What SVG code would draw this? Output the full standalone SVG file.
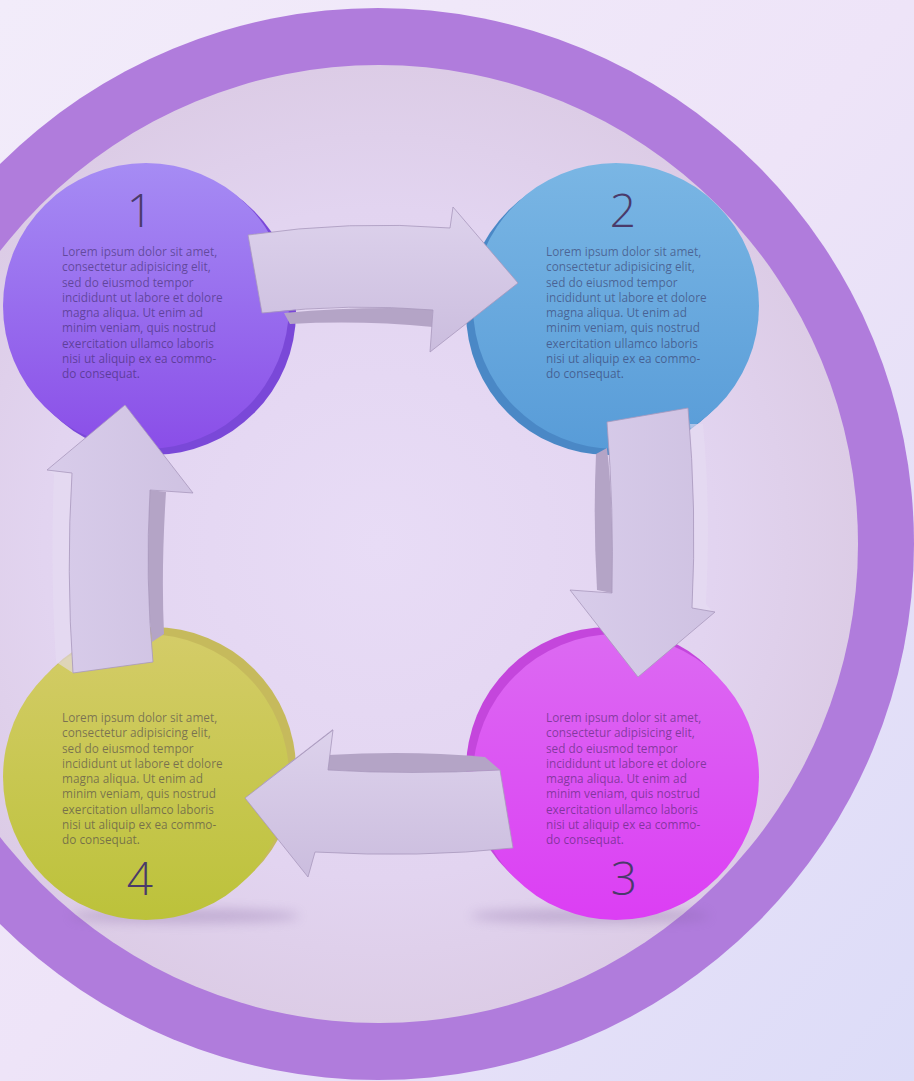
<svg xmlns="http://www.w3.org/2000/svg" width="914" height="1081" viewBox="0 0 914 1081">
<defs>
<linearGradient id="bg" x1="0" y1="0" x2="1" y2="1">
<stop offset="0" stop-color="#f2ecfa"/><stop offset="0.5" stop-color="#eee4f8"/><stop offset="1" stop-color="#dcdcf8"/>
</linearGradient>
<radialGradient id="disk" cx="0.5" cy="0.5" r="0.5">
<stop offset="0" stop-color="#e8dcf6"/><stop offset="0.7" stop-color="#e2d4f0"/><stop offset="1" stop-color="#dccce6"/>
</radialGradient>
<linearGradient id="g1" x1="0" y1="0" x2="0" y2="1"><stop offset="0" stop-color="#a68cf4"/><stop offset="1" stop-color="#8a4ee8"/></linearGradient>
<linearGradient id="g2" x1="0" y1="0" x2="0" y2="1"><stop offset="0" stop-color="#7ab6e4"/><stop offset="1" stop-color="#589cd8"/></linearGradient>
<linearGradient id="g3" x1="0" y1="0" x2="0" y2="1"><stop offset="0" stop-color="#dc6af2"/><stop offset="1" stop-color="#dc3ef4"/></linearGradient>
<linearGradient id="g4" x1="0" y1="0" x2="0" y2="1"><stop offset="0" stop-color="#d4cc68"/><stop offset="1" stop-color="#bcc23a"/></linearGradient>
<linearGradient id="ah" x1="0" y1="0" x2="0" y2="1"><stop offset="0" stop-color="#ddd2ec"/><stop offset="1" stop-color="#cbbdde"/></linearGradient>
<linearGradient id="av" x1="0" y1="0" x2="1" y2="0"><stop offset="0" stop-color="#d8ccea"/><stop offset="1" stop-color="#cfc2e2"/></linearGradient>
<filter id="blur" x="-20%" y="-200%" width="140%" height="500%"><feGaussianBlur stdDeviation="6"/></filter>
</defs>
<style>
.num{font-family:"Open Sans","Noto Sans","Liberation Sans",sans-serif;font-weight:300;font-size:46px;fill:#4a3a6a;text-anchor:middle}
.body{font-family:"Open Sans","Noto Sans","Liberation Sans",sans-serif;font-size:11.8px;fill:#2a1a4a;fill-opacity:0.5}
.arrow{stroke:#a898bc;stroke-width:0.8;stroke-linejoin:round}
.side{fill:#b4a4c6}
.hl{fill:#e6dcf2;opacity:0.6}
</style>
<rect width="914" height="1081" fill="url(#bg)"/>
<circle cx="378" cy="544" r="536" fill="#b07cdc"/>
<circle cx="379" cy="544" r="479" fill="url(#disk)"/>
<ellipse cx="590" cy="916" rx="120" ry="7" fill="#7a5a9a" opacity="0.3" filter="url(#blur)"/>
<ellipse cx="185" cy="916" rx="115" ry="7" fill="#7a5a9a" opacity="0.3" filter="url(#blur)"/>

<g id="node1">
<circle cx="153" cy="312" r="143" fill="#7a48d8"/>
<circle cx="146" cy="306" r="143" fill="url(#g1)"/>
<text class="num" x="140" y="227">1</text>
<text class="body" x="62"><tspan x="62" y="256">Lorem ipsum dolor sit amet,</tspan><tspan x="62" y="271.3">consectetur adipisicing elit,</tspan><tspan x="62" y="286.5">sed do eiusmod tempor</tspan><tspan x="62" y="301.8">incididunt ut labore et dolore</tspan><tspan x="62" y="317">magna aliqua. Ut enim ad</tspan><tspan x="62" y="332.3">minim veniam, quis nostrud</tspan><tspan x="62" y="347.5">exercitation ullamco laboris</tspan><tspan x="62" y="362.8">nisi ut aliquip ex ea commo-</tspan><tspan x="62" y="378">do consequat.</tspan></text>
</g>

<g id="node2">
<circle cx="609" cy="312" r="143" fill="#4a88c6"/>
<circle cx="616" cy="306" r="143" fill="url(#g2)"/>
<text class="num" x="623" y="227">2</text>
<text class="body" x="546"><tspan x="546" y="256">Lorem ipsum dolor sit amet,</tspan><tspan x="546" y="271.3">consectetur adipisicing elit,</tspan><tspan x="546" y="286.5">sed do eiusmod tempor</tspan><tspan x="546" y="301.8">incididunt ut labore et dolore</tspan><tspan x="546" y="317">magna aliqua. Ut enim ad</tspan><tspan x="546" y="332.3">minim veniam, quis nostrud</tspan><tspan x="546" y="347.5">exercitation ullamco laboris</tspan><tspan x="546" y="362.8">nisi ut aliquip ex ea commo-</tspan><tspan x="546" y="378">do consequat.</tspan></text>
</g>

<g id="node3">
<circle cx="609" cy="770" r="143" fill="#c446dc"/>
<circle cx="616" cy="777" r="143" fill="url(#g3)"/>
<text class="num" x="624" y="895">3</text>
<text class="body" x="546"><tspan x="546" y="722">Lorem ipsum dolor sit amet,</tspan><tspan x="546" y="737.3">consectetur adipisicing elit,</tspan><tspan x="546" y="752.5">sed do eiusmod tempor</tspan><tspan x="546" y="767.8">incididunt ut labore et dolore</tspan><tspan x="546" y="783">magna aliqua. Ut enim ad</tspan><tspan x="546" y="798.3">minim veniam, quis nostrud</tspan><tspan x="546" y="813.5">exercitation ullamco laboris</tspan><tspan x="546" y="828.8">nisi ut aliquip ex ea commo-</tspan><tspan x="546" y="844">do consequat.</tspan></text>
</g>

<g id="node4">
<circle cx="153" cy="770" r="143" fill="#c6ba5c"/>
<circle cx="146" cy="777" r="143" fill="url(#g4)"/>
<text class="num" x="140" y="895">4</text>
<text class="body" x="62"><tspan x="62" y="722">Lorem ipsum dolor sit amet,</tspan><tspan x="62" y="737.3">consectetur adipisicing elit,</tspan><tspan x="62" y="752.5">sed do eiusmod tempor</tspan><tspan x="62" y="767.8">incididunt ut labore et dolore</tspan><tspan x="62" y="783">magna aliqua. Ut enim ad</tspan><tspan x="62" y="798.3">minim veniam, quis nostrud</tspan><tspan x="62" y="813.5">exercitation ullamco laboris</tspan><tspan x="62" y="828.8">nisi ut aliquip ex ea commo-</tspan><tspan x="62" y="844">do consequat.</tspan></text>
</g>

<g id="connectors">
<g id="arrow-1-2">
<path class="side" d="M284 313 Q360 306 433 309 L431 352 L433 327 Q360 320 290 324 Z"/>
<path class="hl" d="M450 228 L453 207 L456 212 L455 229 Z"/>
<path class="arrow" fill="url(#ah)" d="M248 235 Q350 220 450 228 L453 207 L518 283 L430 352 L433 310 Q350 303 262 313 Z"/>
</g>
<g id="arrow-2-3">
<path class="hl" d="M690 424 Q697 510 692 608 L713 612 L706 604 Q711 510 703 424 Z"/>
<path class="side" d="M607 448 L596 454 Q593 520 597 590 L612 593 Q614 510 607 448 Z"/>
<path class="arrow" fill="url(#av)" d="M607 422 L688 408 Q697 510 692 608 L715 612 L638 677 L570 590 L612 593 Q614 510 607 422 Z"/>
</g>
<g id="arrow-3-4">
<path class="side" d="M328 755 Q410 750 485 757 L500 770 Q410 775 328 770 Z"/>
<path class="side" d="M262 784 L333 729 L329 756 Z"/>
<path class="arrow" fill="url(#ah)" d="M500 770 Q410 775 328 770 L333 730 L245 798 L308 877 L315 852 Q420 858 513 848 Z"/>
</g>
<g id="arrow-4-1">
<path class="hl" d="M47 470 L72 473 Q66 570 73 673 L56 662 Q50 570 54 474 Z"/>
<path class="side" d="M150 490 L166 492 Q161 570 164 634 L152 642 Q145 580 150 490 Z"/>
<path class="arrow" fill="url(#av)" d="M73 673 Q66 570 72 473 L47 470 L125 405 L193 493 L150 490 Q145 580 153 662 Z"/>
</g>
</g>
</svg>
